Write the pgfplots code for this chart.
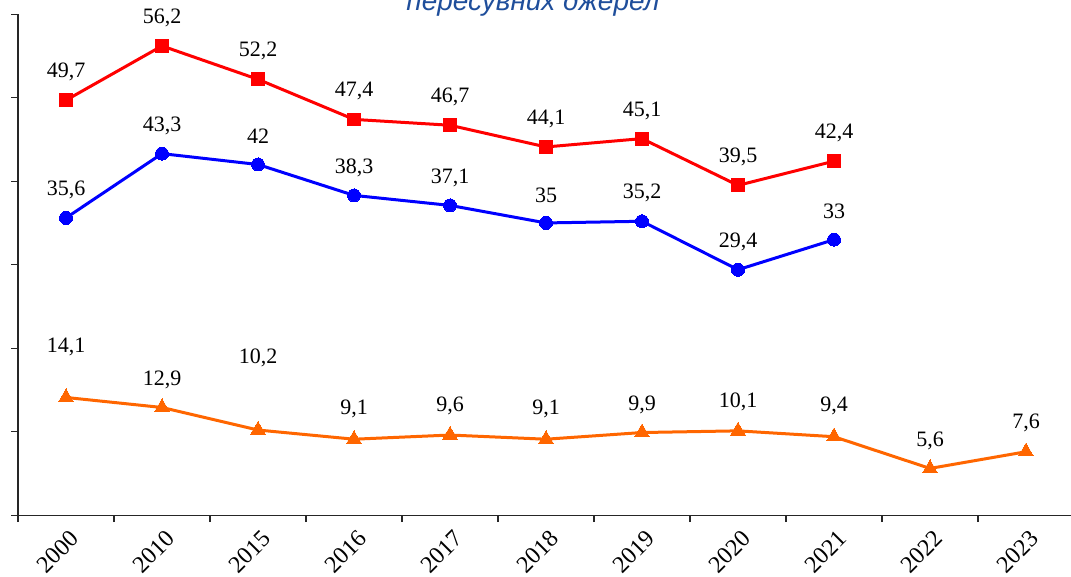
\documentclass[border=0pt]{standalone}
\usepackage{fontspec}
\setmainfont{Liberation Serif}
\newfontfamily\titlefont{Liberation Sans}
\usepackage{pgfplots}
\usepackage{pgfplotstable}
\pgfplotsset{compat=1.18}
\definecolor{myred}{RGB}{255,0,0}
\definecolor{myblue}{RGB}{0,0,255}
\definecolor{myorange}{RGB}{255,102,0}
\definecolor{titleblue}{RGB}{31,78,155}

\pgfplotstableread{
x y lab off
0 49.7 49,7 28
1 56.2 56,2 28
2 52.2 52,2 28
3 47.4 47,4 28
4 46.7 46,7 28
5 44.1 44,1 28
6 45.1 45,1 28
7 39.5 39,5 28
8 42.4 42,4 28
}\redtab

\pgfplotstableread{
x y lab off
0 35.6 35,6 28
1 43.3 43,3 28
2 42.0 42 28
3 38.3 38,3 28
4 37.1 37,1 28
5 35.0 35 28
6 35.2 35,2 28
7 29.4 29,4 28
8 33.0 33 28
}\bluetab

\pgfplotstableread{
x y lab off
0 14.1 14,1 51
1 12.9 12,9 28
2 10.2 10,2 72
3 9.1 9,1 30
4 9.6 9,6 29
5 9.1 9,1 30
6 9.9 9,9 28
7 10.1 10,1 29
8 9.4 9,4 31
9 5.6 5,6 28
10 7.6 7,6 29
}\orangetab

\begin{document}
\begin{tikzpicture}[x=1pt,y=1pt]
\path[use as bounding box] (0,0) rectangle (1071,577);
\begin{axis}[
  at={(18pt,61.8pt)}, anchor=south west,
  scale only axis, width=1056pt, height=501pt,
  xmin=-0.5, xmax=10.5, ymin=0, ymax=60,
  axis x line=bottom, axis y line=left,
  axis line style={-, line width=1.1pt, color=black!85},
  tick align=outside,
  xtick={0,...,10},
  xticklabels={2000,2010,2015,2016,2017,2018,2019,2020,2021,2022,2023},
  major x tick style={draw=none},
  minor xtick={-0.5,0.5,...,10.5},
  minor tick length=7pt,
  minor x tick style={line width=1.1pt, color=black!85},
  ytick={0,10,...,60},
  yticklabels={},
  major tick length=7pt,
  ytick style={line width=1.1pt, color=black!85},
  xticklabel style={font=\fontsize{24}{26}\selectfont, rotate=45, anchor=east, yshift=-15pt, xshift=1pt},
  clip=false,
  nodes near coords,
  point meta=explicit symbolic,
  visualization depends on={\thisrow{off} \as \myoff},
  every node near coord/.append style={anchor=center, yshift=\myoff pt, text=black, font=\fontsize{22}{24}\selectfont},
]
\addplot[myred, line width=3pt, mark=square*, mark size=6.4pt, mark options={line width=0pt}] table[x=x,y=y,meta=lab] {\redtab};
\addplot[myblue, line width=3pt, mark=*, mark size=6.5pt, mark options={line width=0pt}] table[x=x,y=y,meta=lab] {\bluetab};
\addplot[myorange, line width=3pt, mark=triangle*, mark size=8.5pt, mark options={line width=0pt}] table[x=x,y=y,meta=lab] {\orangetab};
\end{axis}
\node[font=\titlefont\itshape\fontsize{28}{32}\selectfont, text=titleblue, anchor=base] at (533,566) {пересувних джерел};
\end{tikzpicture}
\end{document}
